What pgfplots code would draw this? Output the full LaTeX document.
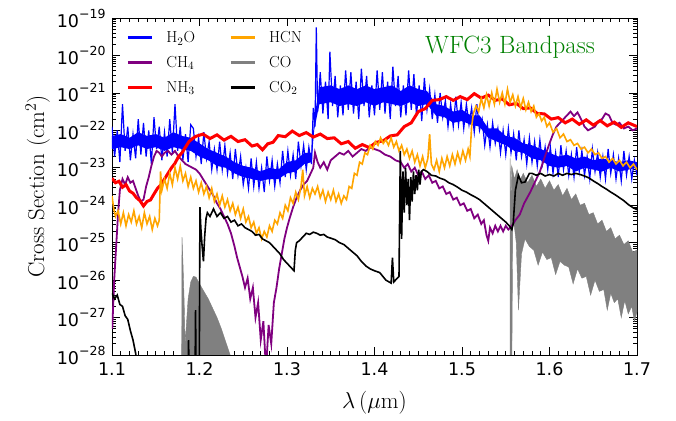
\RequirePackage{fix-cm}
\documentclass[border=0pt]{standalone}
\usepackage{fontspec}
\usepackage{pgfplots}
\pgfplotsset{compat=1.18}
\newfontfamily\tl{DejaVu Sans}
\definecolor{mpurple}{RGB}{128,0,128}
\definecolor{morange}{RGB}{255,165,0}
\definecolor{mgray}{RGB}{128,128,128}
\definecolor{mgreen}{RGB}{0,128,0}
\newcommand\ytl[1]{10\raisebox{9pt}{\fontsize{12.5}{12.5}\selectfont −#1}}
\begin{document}
\begin{tikzpicture}
\begin{axis}[
  scale only axis, width=525pt, height=337pt,
  xmin=1.1, xmax=1.7, ymin=-28, ymax=-19,
  xtick={1.1,1.2,1.3,1.4,1.5,1.6,1.7},
  xticklabels={1.1,1.2,1.3,1.4,1.5,1.6,1.7},
  ytick={-28,-27,-26,-25,-24,-23,-22,-21,-20,-19},
  yticklabels={{\ytl{28}},{\ytl{27}},{\ytl{26}},{\ytl{25}},{\ytl{24}},{\ytl{23}},{\ytl{22}},{\ytl{21}},{\ytl{20}},{\ytl{19}}},
  minor x tick num=9,
  minor ytick={-27.699,-27.523,-27.398,-27.301,-27.222,-27.155,-27.097,-27.046,
   -26.699,-26.523,-26.398,-26.301,-26.222,-26.155,-26.097,-26.046,
   -25.699,-25.523,-25.398,-25.301,-25.222,-25.155,-25.097,-25.046,
   -24.699,-24.523,-24.398,-24.301,-24.222,-24.155,-24.097,-24.046,
   -23.699,-23.523,-23.398,-23.301,-23.222,-23.155,-23.097,-23.046,
   -22.699,-22.523,-22.398,-22.301,-22.222,-22.155,-22.097,-22.046,
   -21.699,-21.523,-21.398,-21.301,-21.222,-21.155,-21.097,-21.046,
   -20.699,-20.523,-20.398,-20.301,-20.222,-20.155,-20.097,-20.046,
   -19.699,-19.523,-19.398,-19.301,-19.222,-19.155,-19.097,-19.046},
  major tick length=8pt, minor tick length=4pt,
  every tick/.style={black, line width=0.7pt},
  axis line style={line width=0.9pt},
  ticklabel style={font=\tl\fontsize{17.5}{20}\selectfont},
  yticklabel style={xshift=-3pt},
  xticklabel style={yshift=-4pt},
  label style={font=\fontsize{23}{27}\selectfont},
  xlabel={$\lambda\,(\mu\mathrm{m})$},
  xlabel style={yshift=-9pt},
  ylabel={Cross Section (cm$^2$)},
  legend columns=2,
  legend cell align=left,
  legend image code/.code={\draw[#1,line width=3pt] (0pt,0pt) -- (24pt,0pt);},
  legend style={font=\fontsize{16}{19}\selectfont, draw=none, fill=none,
    at={(0.027,0.966)}, anchor=north west, inner sep=0pt, row sep=8pt,
    nodes={inner sep=2pt},
    /tikz/every odd column/.append style={column sep=11pt},
    /tikz/every even column/.append style={column sep=32pt}},
  legend entries={H$_2$O, HCN, CH$_4$, CO, NH$_3$, CO$_2$},
]
\coordinate (ll) at (rel axis cs:0,0);
\coordinate (ur) at (rel axis cs:1,1);
\addlegendimage{blue}
\addlegendimage{morange}
\addlegendimage{mpurple}
\addlegendimage{mgray}
\addlegendimage{red}
\addlegendimage{black}

% CO (gray)
\addplot[forget plot, draw=mgray, fill=mgray, line width=0.4pt] coordinates {
(1.1795,-29) (1.1800,-24.85) (1.1812,-25.6) (1.1825,-26.6) (1.1835,-27.7) (1.1850,-27.2) (1.1870,-26.5) (1.1900,-26.05) (1.1930,-25.9) (1.1960,-25.92) (1.2000,-26.1) (1.2050,-26.3) (1.2100,-26.5) (1.2150,-26.75) (1.2200,-27.0) (1.2250,-27.3) (1.2300,-27.65) (1.2350,-28.0) (1.2380,-28.3) (1.2400,-29)};
\addplot[forget plot, draw=mgray, fill=mgray, line width=0.4pt] coordinates {
(1.5548,-30) (1.5550,-22.75) (1.5558,-24.2) (1.5568,-22.95) (1.560,-23.3) (1.563,-23.05) (1.566,-23.35) (1.570,-23.15) (1.575,-23.4) (1.580,-23.2) (1.585,-23.5) (1.590,-23.3) (1.595,-23.55) (1.600,-23.35) (1.605,-23.6) (1.610,-23.45) (1.615,-23.75) (1.620,-23.55) (1.625,-23.85) (1.630,-23.7) (1.635,-24.0) (1.640,-23.95) (1.645,-24.25) (1.650,-24.2) (1.655,-24.5) (1.660,-24.4) (1.665,-24.7) (1.670,-24.6) (1.675,-24.9) (1.680,-24.8) (1.685,-25.05) (1.690,-24.95) (1.695,-25.25) (1.700,-25.2)
(1.700,-26.85) (1.697,-27.1) (1.694,-26.7) (1.690,-26.9) (1.686,-26.55) (1.682,-27.0) (1.678,-26.5) (1.674,-26.6) (1.670,-26.35) (1.666,-26.8) (1.662,-26.25) (1.657,-26.3) (1.652,-26.0) (1.647,-26.4) (1.642,-25.9) (1.637,-25.95) (1.632,-25.7) (1.627,-26.1) (1.622,-25.65) (1.617,-25.6) (1.612,-25.5) (1.607,-25.85) (1.602,-25.4) (1.597,-25.45) (1.592,-25.25) (1.587,-25.6) (1.582,-25.2) (1.577,-25.1) (1.572,-24.9) (1.568,-25.3) (1.5645,-26.8) (1.562,-25.0) (1.560,-24.6) (1.558,-24.4) (1.5565,-30)};

% H2O (blue): dense core of the band
\addplot[forget plot, draw=none, fill=blue] coordinates {
(1.100,-22.15) (1.110,-22.1) (1.120,-22.2) (1.130,-22.05) (1.140,-22.15) (1.150,-22.1) (1.160,-22.2) (1.170,-22.05) (1.180,-22.15) (1.190,-22.2) (1.200,-22.35) (1.210,-22.5) (1.220,-22.6) (1.230,-22.7) (1.240,-22.85) (1.250,-22.95) (1.260,-23.0) (1.270,-23.1) (1.280,-23.0) (1.290,-23.05) (1.300,-22.85) (1.310,-22.8) (1.320,-22.6) (1.328,-22.6) (1.331,-21.7) (1.337,-20.85) (1.350,-20.8) (1.360,-20.9) (1.370,-20.8) (1.380,-20.9) (1.390,-20.8) (1.400,-20.9) (1.410,-20.85) (1.420,-20.8) (1.430,-20.95) (1.440,-20.8) (1.450,-20.9) (1.460,-20.95) (1.470,-21.3) (1.480,-21.35) (1.490,-21.5) (1.500,-21.45) (1.510,-21.6) (1.520,-21.6) (1.530,-21.95) (1.540,-21.95) (1.550,-22.15) (1.560,-22.2) (1.570,-22.35) (1.580,-22.4) (1.590,-22.5) (1.600,-22.6) (1.610,-22.7) (1.620,-22.65) (1.630,-22.75) (1.640,-22.7) (1.650,-22.8) (1.660,-22.75) (1.670,-22.8) (1.680,-22.85) (1.690,-22.8) (1.700,-22.85)
(1.700,-23.0) (1.690,-23.05) (1.680,-23.1) (1.670,-23.0) (1.660,-23.1) (1.650,-23.05) (1.640,-23.0) (1.630,-23.1) (1.620,-22.95) (1.610,-23.0) (1.600,-22.95) (1.590,-22.8) (1.580,-22.75) (1.570,-22.6) (1.560,-22.55) (1.550,-22.4) (1.540,-22.3) (1.530,-22.2) (1.520,-21.9) (1.510,-21.85) (1.500,-21.75) (1.490,-21.8) (1.480,-21.65) (1.470,-21.6) (1.460,-21.3) (1.450,-21.35) (1.440,-21.25) (1.430,-21.35) (1.420,-21.3) (1.410,-21.25) (1.400,-21.35) (1.390,-21.25) (1.380,-21.35) (1.370,-21.3) (1.360,-21.35) (1.350,-21.25) (1.337,-21.3) (1.331,-22.0) (1.328,-22.85) (1.320,-22.9) (1.310,-23.1) (1.300,-23.15) (1.290,-23.3) (1.280,-23.3) (1.270,-23.35) (1.260,-23.3) (1.250,-23.25) (1.240,-23.15) (1.230,-23.0) (1.220,-22.95) (1.210,-22.8) (1.200,-22.7) (1.190,-22.55) (1.180,-22.5) (1.170,-22.45) (1.160,-22.55) (1.150,-22.45) (1.140,-22.5) (1.130,-22.4) (1.120,-22.5) (1.110,-22.45) (1.100,-22.5)};
% H2O (blue): spiky edges
\addplot[forget plot, blue, line width=1.2pt] coordinates {
(1.100,-21.9) (1.103,-22.7) (1.106,-22.0) (1.109,-22.85) (1.112,-21.3) (1.115,-22.55) (1.118,-21.9) (1.121,-22.8) (1.124,-22.1) (1.127,-22.75) (1.130,-21.7) (1.133,-22.65) (1.136,-21.8) (1.139,-22.7) (1.142,-22.0) (1.145,-22.9) (1.148,-21.65) (1.151,-22.5) (1.154,-21.9) (1.157,-22.8) (1.160,-22.05) (1.163,-22.7) (1.166,-21.7) (1.169,-22.6) (1.172,-21.3) (1.175,-22.55) (1.178,-21.9) (1.181,-22.8) (1.184,-22.1) (1.187,-22.85) (1.190,-21.85)
(1.193,-21.95) (1.196,-22.7) (1.199,-22.2) (1.202,-22.9) (1.205,-22.05) (1.208,-22.75) (1.211,-22.3) (1.214,-23.05) (1.217,-22.5) (1.220,-23.05) (1.223,-22.3) (1.226,-23.05) (1.229,-22.4) (1.232,-23.15) (1.235,-22.6) (1.238,-23.3) (1.241,-22.5) (1.244,-23.2) (1.247,-22.7) (1.250,-23.45) (1.253,-23.0) (1.256,-23.55) (1.259,-22.75) (1.262,-23.5) (1.265,-22.85) (1.268,-23.55) (1.271,-23.0) (1.274,-23.65) (1.277,-22.7) (1.280,-23.35) (1.283,-22.8) (1.286,-23.5) (1.289,-22.9) (1.292,-23.4) (1.295,-22.55) (1.298,-23.25) (1.301,-22.55) (1.304,-23.2) (1.307,-22.65) (1.310,-23.3) (1.313,-22.3) (1.316,-22.95) (1.319,-22.4) (1.322,-23.05) (1.325,-22.45) (1.328,-22.9)
(1.330,-21.4) (1.332,-21.9) (1.3335,-19.25) (1.335,-21.5)
(1.338,-20.45) (1.341,-21.55) (1.344,-20.7) (1.347,-21.7) (1.349,-19.9) (1.352,-21.35) (1.355,-20.55) (1.358,-21.65) (1.361,-20.8) (1.364,-21.6) (1.367,-20.4) (1.370,-21.45) (1.373,-20.45) (1.376,-21.55) (1.379,-20.7) (1.382,-21.7) (1.385,-20.35) (1.388,-21.35) (1.391,-20.55) (1.394,-21.65) (1.397,-20.8) (1.400,-21.6) (1.403,-20.4) (1.406,-21.45) (1.409,-20.45) (1.412,-21.55) (1.415,-20.7) (1.418,-21.7) (1.421,-20.3) (1.424,-21.35) (1.427,-20.55) (1.430,-21.65) (1.433,-20.8) (1.436,-21.6) (1.439,-20.4) (1.442,-21.45) (1.445,-20.5) (1.448,-21.6) (1.451,-20.8) (1.454,-21.75) (1.457,-20.6) (1.460,-21.45)
(1.463,-20.9) (1.466,-21.7) (1.469,-21.05) (1.472,-21.8) (1.475,-21.0) (1.478,-21.65) (1.481,-21.2) (1.484,-21.9) (1.487,-21.3) (1.490,-21.9) (1.493,-21.1) (1.496,-21.85) (1.499,-21.25) (1.502,-21.95) (1.505,-21.3) (1.508,-21.85) (1.511,-21.4) (1.514,-22.05) (1.517,-21.3) (1.520,-22.0)
(1.523,-21.7) (1.526,-22.4) (1.529,-21.85) (1.532,-22.45) (1.535,-21.8) (1.538,-22.35) (1.541,-21.95) (1.544,-22.6) (1.547,-22.0) (1.550,-22.65) (1.553,-21.95) (1.556,-22.6) (1.559,-22.1) (1.562,-22.8) (1.565,-22.0) (1.568,-22.7) (1.571,-22.25) (1.574,-22.9) (1.577,-22.2) (1.580,-22.85) (1.583,-22.3) (1.586,-22.95) (1.589,-22.25) (1.592,-22.9) (1.595,-22.45) (1.598,-23.05)
(1.601,-22.45) (1.604,-23.15) (1.607,-22.6) (1.610,-23.25) (1.613,-22.4) (1.616,-23.05) (1.619,-22.55) (1.622,-23.2) (1.625,-22.65) (1.628,-23.25) (1.631,-22.45) (1.634,-23.1) (1.637,-22.55) (1.640,-23.2) (1.643,-22.7) (1.646,-23.3) (1.649,-22.5) (1.652,-23.1) (1.655,-22.6) (1.658,-23.25) (1.661,-22.7) (1.664,-23.3) (1.667,-22.5) (1.670,-23.15) (1.673,-22.65) (1.676,-23.3) (1.679,-22.75) (1.682,-23.35) (1.685,-22.55) (1.688,-23.2) (1.691,-22.7) (1.694,-23.3) (1.697,-22.8) (1.700,-23.2)};

% CH4 (purple)
\addplot[forget plot, mpurple, line width=1.8pt] coordinates {
(1.1003,-27.3) (1.1025,-26.0) (1.105,-25.0) (1.107,-24.2) (1.109,-23.6) (1.112,-23.3) (1.115,-23.45) (1.118,-23.25) (1.121,-23.4) (1.124,-23.35) (1.127,-23.55) (1.130,-23.75) (1.133,-23.9) (1.136,-23.85) (1.139,-23.5) (1.142,-23.25) (1.145,-22.95) (1.148,-22.7) (1.151,-22.55) (1.154,-22.6) (1.157,-22.7) (1.160,-22.6) (1.164,-22.55) (1.168,-22.65) (1.172,-22.55) (1.176,-22.7) (1.180,-22.8) (1.184,-22.9) (1.188,-22.95) (1.192,-23.0) (1.196,-23.05) (1.200,-23.15) (1.204,-23.3) (1.208,-23.45) (1.212,-23.6) (1.216,-23.75) (1.220,-23.95) (1.224,-24.1) (1.228,-24.3) (1.232,-24.5) (1.236,-24.75) (1.240,-25.1) (1.243,-25.4) (1.246,-25.65) (1.249,-25.9) (1.252,-26.2) (1.255,-25.95) (1.258,-26.5) (1.261,-26.2) (1.264,-27.0) (1.267,-26.6) (1.270,-27.6) (1.273,-27.1) (1.276,-28.4) (1.279,-27.2) (1.282,-27.7) (1.285,-26.6) (1.288,-26.2) (1.291,-25.7) (1.294,-25.3) (1.297,-24.9) (1.300,-24.6) (1.303,-24.35) (1.307,-24.05) (1.311,-23.8) (1.315,-23.6) (1.319,-23.45) (1.323,-23.35) (1.327,-23.15) (1.330,-23.0) (1.332,-22.6) (1.335,-22.85) (1.338,-23.0) (1.342,-22.85) (1.346,-23.05) (1.350,-22.8) (1.355,-22.7) (1.360,-22.6) (1.365,-22.65) (1.370,-22.55) (1.375,-22.7) (1.380,-22.6) (1.385,-22.5) (1.390,-22.55) (1.395,-22.45) (1.400,-22.5) (1.406,-22.55) (1.412,-22.65) (1.418,-22.7) (1.424,-22.8) (1.430,-22.85) (1.434,-23.0) (1.438,-22.9) (1.442,-23.1) (1.446,-23.0) (1.450,-23.2) (1.454,-23.1) (1.458,-23.3) (1.462,-23.2) (1.466,-23.4) (1.470,-23.35) (1.474,-23.55) (1.478,-23.5) (1.482,-23.7) (1.486,-23.65) (1.490,-23.85) (1.494,-23.8) (1.498,-24.0) (1.502,-23.95) (1.506,-24.15) (1.510,-24.1) (1.514,-24.35) (1.518,-24.25) (1.522,-24.5) (1.525,-24.4) (1.528,-24.8) (1.530,-24.95) (1.532,-24.6) (1.535,-24.75) (1.538,-24.55) (1.541,-24.7) (1.544,-24.55) (1.547,-24.7) (1.550,-24.55) (1.553,-24.65) (1.557,-24.55) (1.561,-24.4) (1.566,-24.25) (1.571,-23.95) (1.578,-23.65) (1.584,-23.35) (1.589,-23.1) (1.594,-22.75) (1.600,-22.35) (1.604,-22.1) (1.608,-21.9) (1.612,-21.8) (1.616,-21.7) (1.620,-21.6) (1.624,-21.5) (1.628,-21.62) (1.632,-21.52) (1.636,-21.7) (1.640,-21.9) (1.644,-22.0) (1.648,-21.95) (1.652,-21.9) (1.656,-21.75) (1.660,-21.7) (1.664,-21.55) (1.668,-21.6) (1.672,-21.8) (1.676,-21.85) (1.680,-21.8) (1.685,-21.95) (1.690,-21.9) (1.695,-22.0) (1.700,-21.95)};

% NH3 (red)
\addplot[forget plot, red, line width=3pt] coordinates {
(1.100,-23.28) (1.104,-23.4) (1.108,-23.36) (1.112,-23.52) (1.116,-23.45) (1.120,-23.62) (1.124,-23.68) (1.128,-23.8) (1.132,-23.88) (1.136,-24.02) (1.140,-23.9) (1.144,-23.86) (1.148,-23.7) (1.152,-23.55) (1.156,-23.45) (1.160,-23.3) (1.164,-23.15) (1.168,-23.0) (1.172,-22.88) (1.176,-22.7) (1.180,-22.6) (1.184,-22.45) (1.188,-22.3) (1.192,-22.22) (1.196,-22.16) (1.204,-22.1) (1.212,-22.22) (1.220,-22.12) (1.228,-22.26) (1.236,-22.16) (1.244,-22.3) (1.252,-22.25) (1.260,-22.42) (1.266,-22.38) (1.272,-22.52) (1.278,-22.36) (1.284,-22.32) (1.290,-22.14) (1.298,-22.17) (1.306,-22.02) (1.314,-22.14) (1.322,-22.06) (1.330,-22.18) (1.338,-22.1) (1.346,-22.22) (1.354,-22.2) (1.362,-22.36) (1.370,-22.3) (1.378,-22.48) (1.386,-22.38) (1.394,-22.46) (1.402,-22.32) (1.410,-22.28) (1.418,-22.15) (1.426,-22.12) (1.434,-21.9) (1.442,-21.8) (1.450,-21.5) (1.458,-21.42) (1.466,-21.2) (1.474,-21.18) (1.482,-21.1) (1.490,-21.2) (1.498,-21.1) (1.506,-21.18) (1.514,-21.02) (1.522,-21.14) (1.530,-21.06) (1.538,-21.2) (1.546,-21.16) (1.554,-21.32) (1.562,-21.28) (1.570,-21.42) (1.578,-21.4) (1.586,-21.55) (1.594,-21.56) (1.602,-21.7) (1.610,-21.66) (1.618,-21.8) (1.626,-21.7) (1.634,-21.84) (1.642,-21.72) (1.650,-21.86) (1.658,-21.74) (1.666,-21.88) (1.674,-21.78) (1.682,-21.92) (1.690,-21.8) (1.700,-21.9)};

% HCN (orange)
\addplot[forget plot, morange, line width=1.6pt] coordinates {
(1.100,-23.75) (1.102,-24.1) (1.104,-24.3) (1.107,-24.15) (1.110,-24.5) (1.113,-24.2) (1.116,-24.55) (1.119,-24.25) (1.122,-24.45) (1.125,-24.15) (1.128,-24.5) (1.131,-24.3) (1.134,-24.6) (1.137,-24.2) (1.140,-24.5) (1.143,-24.3) (1.146,-24.65) (1.149,-24.35) (1.152,-24.55) (1.154,-24.4) (1.1555,-23.1) (1.157,-23.6) (1.160,-23.3) (1.163,-23.55) (1.166,-23.15) (1.169,-23.45) (1.172,-23.0) (1.175,-23.3) (1.178,-22.95) (1.181,-23.35) (1.184,-23.15) (1.187,-23.5) (1.190,-23.25) (1.193,-23.55) (1.196,-23.35) (1.199,-23.65) (1.202,-23.4) (1.205,-23.7) (1.208,-23.5) (1.211,-23.8) (1.214,-23.55) (1.217,-23.9) (1.220,-23.7) (1.223,-24.0) (1.226,-23.75) (1.229,-24.05) (1.232,-23.85) (1.235,-24.15) (1.238,-23.95) (1.241,-24.25) (1.244,-24.05) (1.247,-24.35) (1.250,-24.1) (1.253,-24.45) (1.256,-24.3) (1.259,-24.6) (1.262,-24.45) (1.265,-24.75) (1.268,-24.6) (1.271,-24.9) (1.274,-24.7) (1.277,-24.85) (1.280,-24.55) (1.283,-24.7) (1.286,-24.4) (1.289,-24.5) (1.292,-24.2) (1.295,-24.35) (1.298,-24.0) (1.301,-24.15) (1.304,-23.8) (1.307,-23.95) (1.310,-23.65) (1.313,-23.85) (1.316,-23.5) (1.318,-23.05) (1.320,-23.75) (1.323,-23.5) (1.326,-23.8) (1.329,-23.55) (1.332,-23.7) (1.335,-23.5) (1.338,-23.8) (1.341,-23.6) (1.344,-23.9) (1.347,-23.65) (1.350,-23.85) (1.353,-23.6) (1.356,-23.9) (1.359,-23.7) (1.362,-23.95) (1.365,-23.75) (1.368,-23.85) (1.371,-23.5) (1.374,-23.55) (1.377,-23.15) (1.380,-23.2) (1.383,-22.85) (1.386,-22.9) (1.389,-22.6) (1.392,-22.65) (1.395,-22.4) (1.398,-22.5) (1.401,-22.3) (1.404,-22.4) (1.407,-22.2) (1.410,-22.35) (1.413,-22.25) (1.416,-22.4) (1.419,-22.2) (1.422,-22.45) (1.425,-22.3) (1.428,-22.55) (1.431,-22.4) (1.434,-22.65) (1.437,-22.5) (1.440,-22.75) (1.443,-22.55) (1.446,-22.85) (1.449,-22.65) (1.452,-22.95) (1.455,-22.7) (1.458,-23.0) (1.461,-22.75) (1.463,-22.1) (1.465,-22.9) (1.468,-23.05) (1.471,-22.8) (1.474,-23.1) (1.477,-22.75) (1.480,-23.0) (1.483,-22.7) (1.486,-22.95) (1.489,-22.65) (1.492,-22.9) (1.495,-22.6) (1.498,-22.85) (1.501,-22.55) (1.504,-22.8) (1.507,-22.5) (1.509,-22.7) (1.510,-22.3) (1.511,-21.9) (1.513,-21.55) (1.516,-21.35) (1.519,-21.5) (1.522,-21.15) (1.525,-21.4) (1.528,-21.05) (1.531,-21.35) (1.534,-21.0) (1.537,-21.3) (1.540,-20.9) (1.543,-21.25) (1.546,-21.0) (1.549,-21.3) (1.552,-20.9) (1.555,-21.25) (1.558,-21.05) (1.561,-21.35) (1.564,-21.1) (1.567,-21.4) (1.570,-21.15) (1.573,-21.45) (1.576,-21.25) (1.579,-21.5) (1.582,-21.35) (1.585,-21.65) (1.588,-21.55) (1.591,-21.75) (1.594,-21.65) (1.597,-21.9) (1.600,-21.8) (1.604,-22.05) (1.608,-21.95) (1.612,-22.2) (1.616,-22.1) (1.620,-22.3) (1.624,-22.25) (1.628,-22.4) (1.632,-22.35) (1.636,-22.5) (1.640,-22.45) (1.644,-22.6) (1.648,-22.5) (1.652,-22.65) (1.656,-22.6) (1.660,-22.75) (1.664,-22.7) (1.668,-22.85) (1.672,-22.75) (1.676,-22.9) (1.680,-22.8) (1.684,-22.95) (1.688,-22.85) (1.692,-23.0) (1.696,-22.9) (1.700,-23.05)};

% CO2 (black)
\addplot[forget plot, black, line width=1.6pt] coordinates {
(1.100,-26.35) (1.103,-26.5) (1.106,-26.4) (1.109,-26.65) (1.112,-26.7) (1.115,-26.95) (1.118,-27.05) (1.121,-27.35) (1.124,-27.6) (1.127,-27.95) (1.129,-28.3) (1.131,-29) (1.135,-30) (1.186,-30) (1.1875,-27.6) (1.189,-30) (1.1945,-30) (1.1955,-26.8) (1.1965,-30) (1.1995,-30) (1.2005,-24.05) (1.2015,-24.6) (1.203,-25.1) (1.2045,-25.5) (1.206,-24.8) (1.2075,-24.35) (1.209,-24.2) (1.212,-24.3) (1.216,-24.1) (1.220,-24.3) (1.224,-24.2) (1.228,-24.35) (1.232,-24.3) (1.236,-24.45) (1.240,-24.4) (1.244,-24.55) (1.248,-24.5) (1.252,-24.6) (1.256,-24.65) (1.260,-24.7) (1.264,-24.8) (1.268,-24.78) (1.272,-24.9) (1.276,-24.95) (1.280,-25.0) (1.284,-25.1) (1.288,-25.2) (1.292,-25.3) (1.296,-25.45) (1.300,-25.55) (1.304,-25.65) (1.308,-25.75) (1.3095,-25.2) (1.311,-25.0) (1.314,-24.95) (1.318,-24.85) (1.322,-24.75) (1.326,-24.78) (1.330,-24.72) (1.334,-24.75) (1.338,-24.8) (1.342,-24.78) (1.346,-24.85) (1.350,-24.88) (1.355,-24.92) (1.360,-25.0) (1.365,-25.05) (1.370,-25.15) (1.375,-25.25) (1.380,-25.35) (1.385,-25.5) (1.390,-25.62) (1.395,-25.7) (1.400,-25.75) (1.406,-25.8) (1.413,-26.0) (1.419,-26.08) (1.4205,-25.4) (1.422,-26.05) (1.426,-25.95) (1.428,-25.9) (1.4295,-22.55) (1.431,-24.9) (1.4325,-23.1) (1.434,-24.2) (1.4355,-23.0) (1.437,-24.0) (1.4385,-23.3) (1.440,-24.4) (1.4415,-23.25) (1.443,-23.9) (1.4445,-23.1) (1.446,-23.7) (1.4475,-23.2) (1.449,-23.6) (1.4505,-23.05) (1.452,-23.45) (1.4535,-23.1) (1.456,-23.05) (1.460,-23.1) (1.465,-23.2) (1.470,-23.22) (1.475,-23.28) (1.480,-23.32) (1.485,-23.4) (1.490,-23.45) (1.495,-23.52) (1.500,-23.6) (1.505,-23.65) (1.510,-23.72) (1.515,-23.78) (1.520,-23.85) (1.525,-23.95) (1.530,-24.05) (1.535,-24.15) (1.540,-24.25) (1.545,-24.35) (1.550,-24.45) (1.554,-24.55) (1.557,-24.65) (1.5585,-24.5) (1.561,-23.6) (1.5645,-23.2) (1.568,-23.4) (1.572,-23.38) (1.577,-23.15) (1.580,-23.15) (1.585,-23.2) (1.590,-23.15) (1.595,-23.22) (1.600,-23.18) (1.605,-23.22) (1.610,-23.15) (1.615,-23.2) (1.620,-23.15) (1.625,-23.18) (1.630,-23.15) (1.635,-23.18) (1.640,-23.22) (1.645,-23.27) (1.650,-23.35) (1.655,-23.42) (1.660,-23.5) (1.665,-23.57) (1.670,-23.65) (1.675,-23.72) (1.680,-23.8) (1.685,-23.88) (1.690,-23.98) (1.695,-24.06) (1.700,-24.12)};

\node[text=mgreen, font=\fontsize{25}{30}\selectfont] at (rel axis cs:0.758,0.914) {WFC3 Bandpass};
\end{axis}
\pgfresetboundingbox
\path ([shift={(-112pt,-66pt)}]ll) rectangle ([shift={(39pt,18pt)}]ur);
\end{tikzpicture}
\end{document}
